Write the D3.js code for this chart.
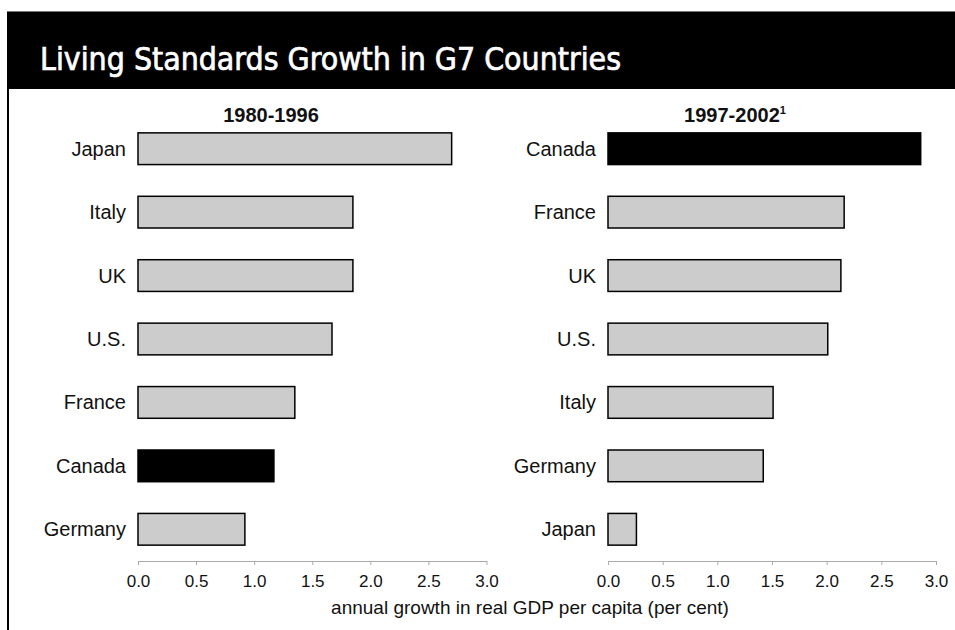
<!DOCTYPE html>
<html>
<head>
<meta charset="utf-8">
<script src="https://cdn.jsdelivr.net/npm/d3@7"></script>
<style>
  body { margin: 0; background: #fff; }
  svg { display: block; }
  text { font-family: "Liberation Sans", Arial, sans-serif; }
</style>
</head>
<body>
<svg id="chart" width="955" height="630"></svg>
<script>
// data
const countriesA = ["Japan", "Italy", "UK", "U.S.", "France", "Canada", "Germany"]
const valuesA = [2.70, 1.85, 1.85, 1.67, 1.35, 1.17, 0.92]
const countriesB = ["Canada", "France", "UK", "U.S.", "Italy", "Germany", "Japan"]
const valuesB = [2.86, 2.16, 2.13, 2.01, 1.51, 1.42, 0.26]
const tickValues = [0, 0.5, 1, 1.5, 2, 2.5, 3]
const highlight = "Canada"

const svg = d3.select("#chart")

// header band
svg.append("rect").attr("x", 7).attr("y", 11).attr("width", 948).attr("height", 78).attr("fill", "#000")
svg.append("line").attr("x1", 7).attr("x2", 955).attr("y1", 11.5).attr("y2", 11.5).attr("stroke", "#777")
svg.append("rect").attr("x", 7).attr("y", 89).attr("width", 2).attr("height", 541).attr("fill", "#000")

svg.append("text")
  .attr("x", 40).attr("y", 70)
  .attr("fill", "#fff")
  .attr("stroke", "#fff")
  .attr("stroke-width", 0.7)
  .attr("textLength", 581)
  .attr("lengthAdjust", "spacingAndGlyphs")
  .style("font-family", "'DejaVu Sans Condensed', 'Liberation Sans', sans-serif")
  .style("font-size", "32px")
  .style("font-weight", "normal")
  .text("Living Standards Growth in G7 Countries")

const y = d3.scaleBand().range([117, 561]).paddingInner(0.5).paddingOuter(0.25)

function panel(cats, vals, x0, x1, title, titleX, sup) {
  const x = d3.scaleLinear().domain([0, 3]).range([x0, x1])
  const yy = y.copy().domain(cats)
  const g = svg.append("g")

  g.selectAll(".bar")
    .data(cats)
    .enter()
    .append("rect")
    .attr("class", "bar")
    .attr("x", x(0))
    .attr("y", d => yy(d))
    .attr("width", (d, i) => x(vals[i]) - x(0))
    .attr("height", yy.bandwidth())
    .attr("fill", d => d == highlight ? "#000" : "#cccccc")
    .attr("stroke", "#000")
    .attr("stroke-width", 1.5)

  g.selectAll(".cat")
    .data(cats)
    .enter()
    .append("text")
    .attr("x", x0 - 12)
    .attr("y", d => yy(d) + yy.bandwidth() / 2)
    .attr("dy", "0.35em")
    .attr("text-anchor", "end")
    .style("font-size", "20px")
    .attr("fill", "#111")
    .text(d => d)

  const axis = g.append("g")
    .attr("transform", "translate(0,561)")
    .call(d3.axisBottom(x).tickValues(tickValues).tickFormat(d3.format(".1f")).tickSize(4).tickSizeOuter(0).tickPadding(10))
  axis.select(".domain").attr("stroke", "#aaa")
  axis.selectAll(".tick line").attr("stroke", "#aaa")
  axis.selectAll(".tick text").style("font-size", "17px").attr("fill", "#111")

  const t = g.append("text")
    .attr("x", titleX).attr("y", 122)
    .attr("text-anchor", "middle")
    .style("font-size", "20px")
    .style("font-weight", "bold")
    .attr("fill", "#111")
    .text(title)
  if (sup) t.append("tspan").attr("dy", -8).style("font-size", "11px").text(sup)
}

panel(countriesA, valuesA, 138, 486.5, "1980-1996", 271)
panel(countriesB, valuesB, 608, 936, "1997-2002", 735, "1")

svg.append("text")
  .attr("x", 530).attr("y", 614)
  .attr("text-anchor", "middle")
  .style("font-size", "19px")
  .attr("fill", "#111")
  .text("annual growth in real GDP per capita (per cent)")
</script>
</body>
</html>
